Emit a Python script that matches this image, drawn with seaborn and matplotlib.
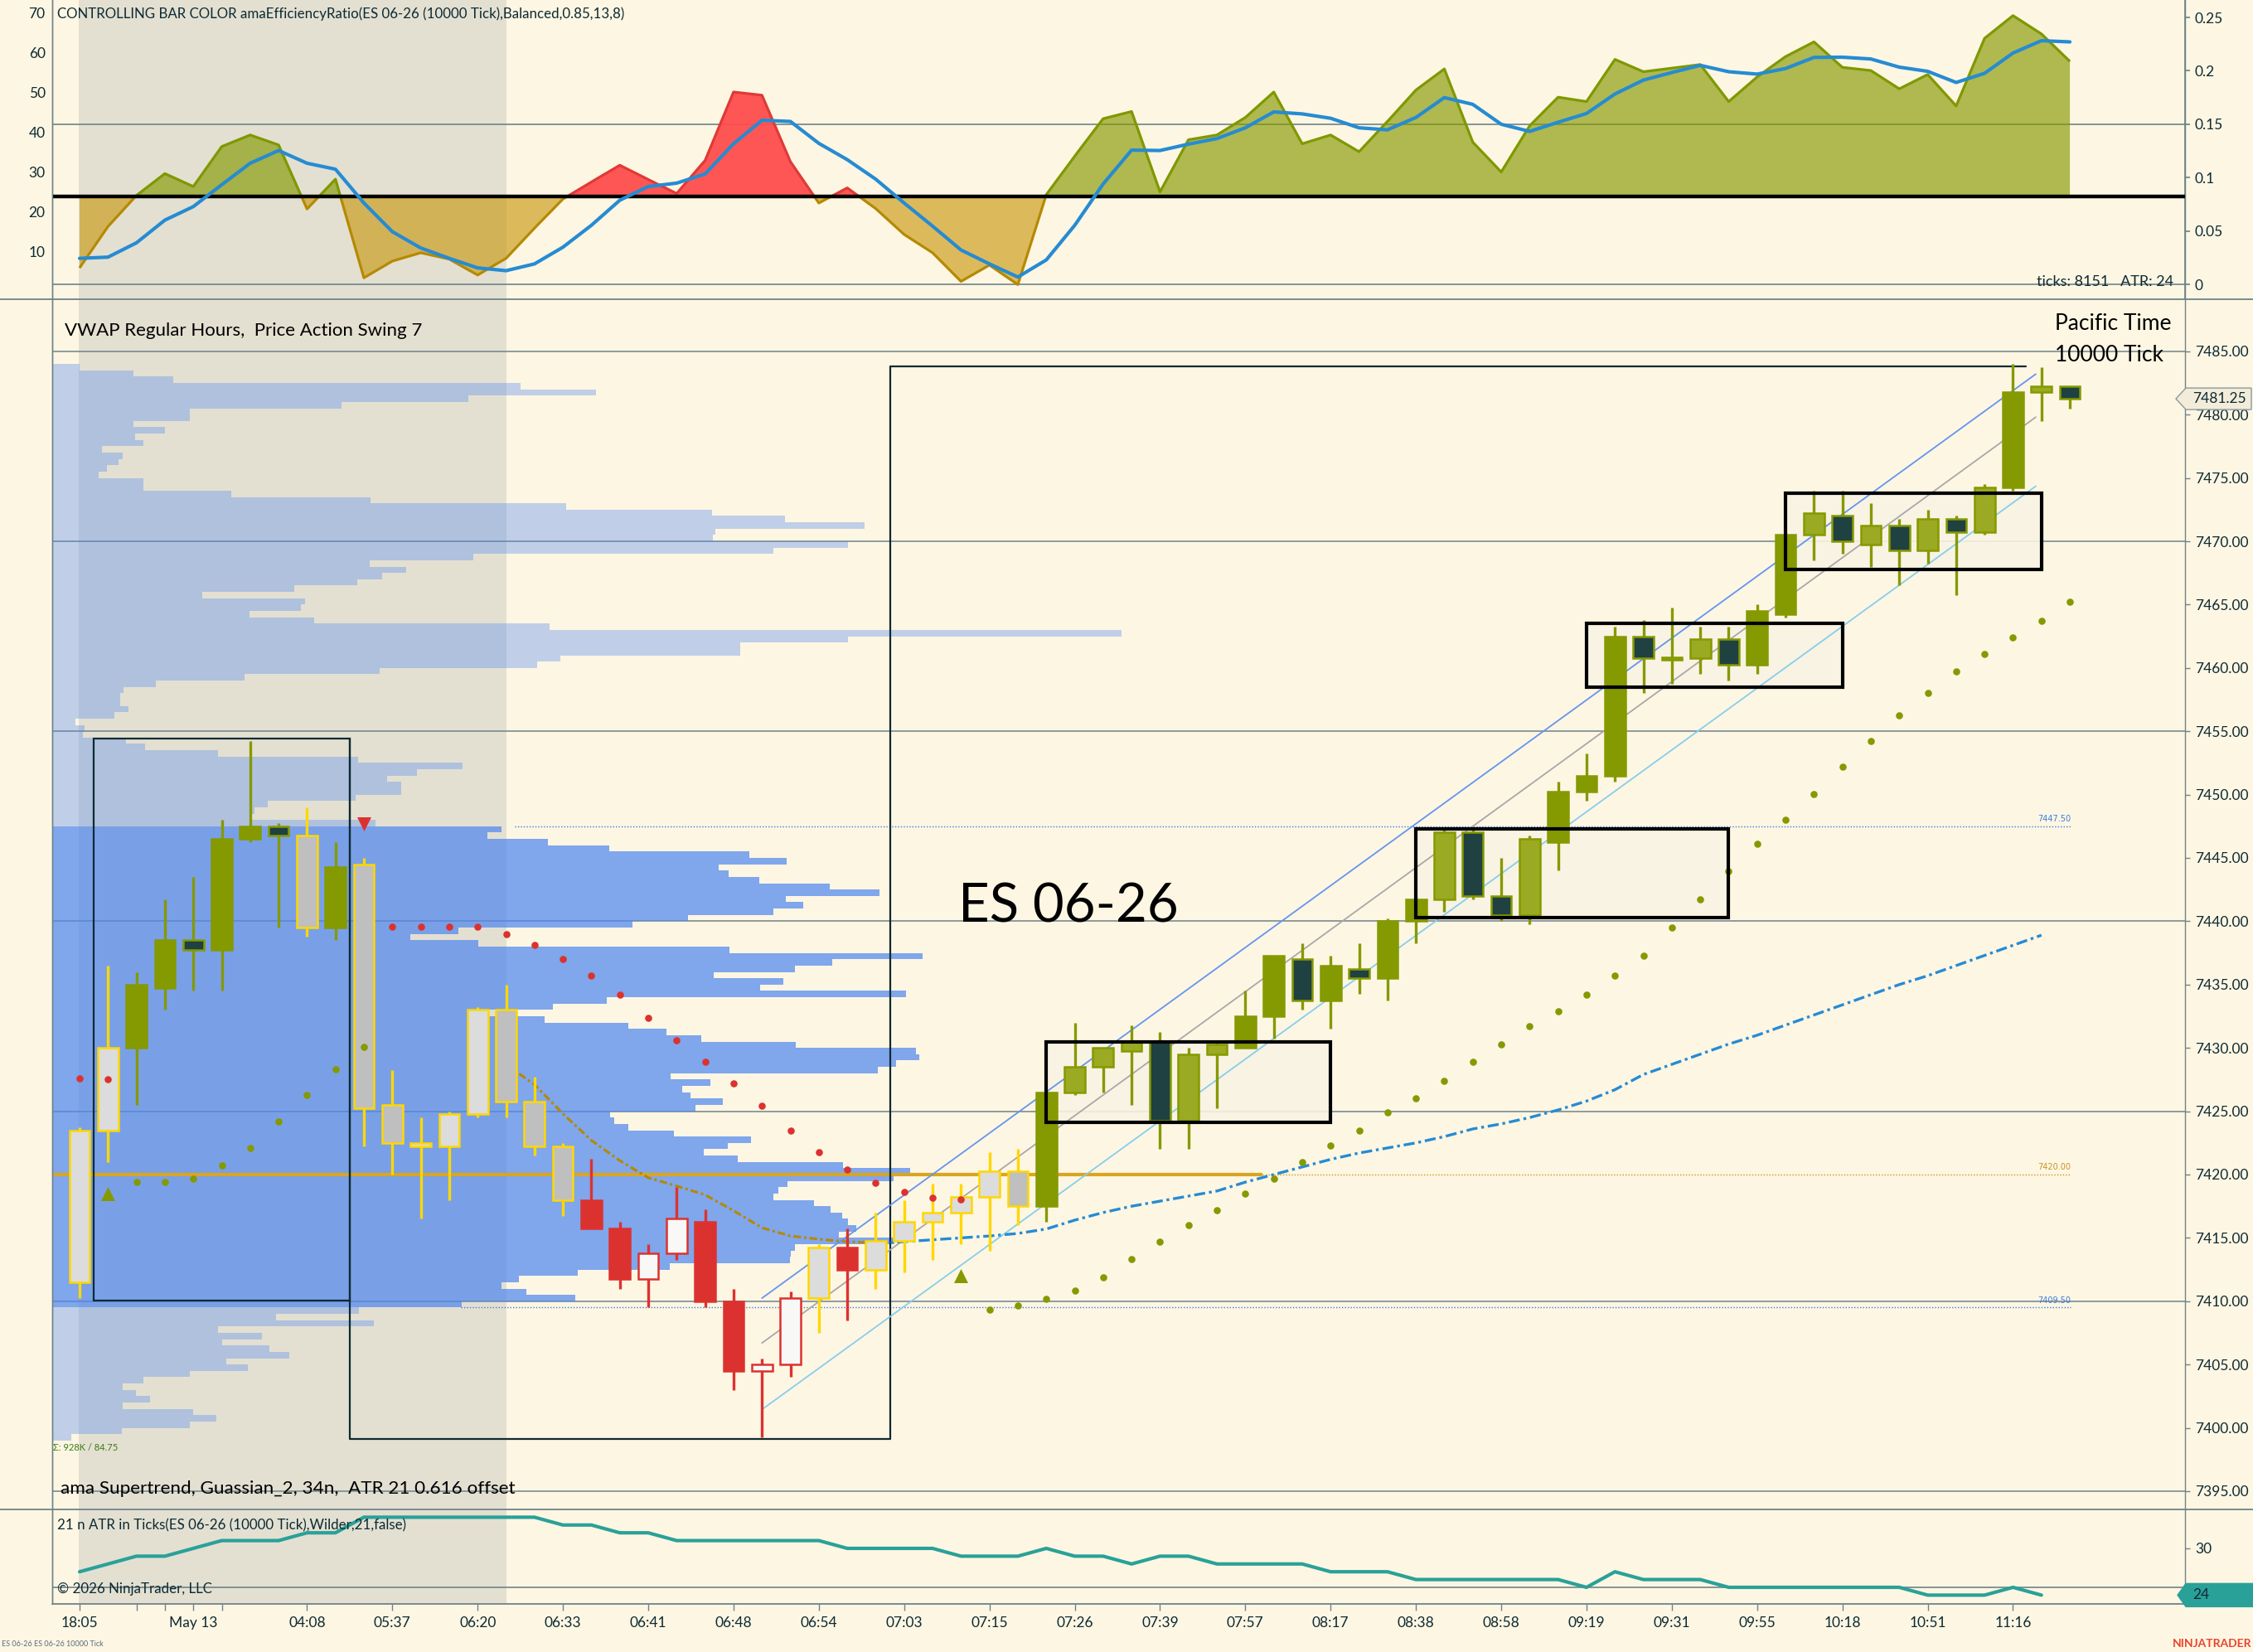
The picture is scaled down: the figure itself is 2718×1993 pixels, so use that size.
import numpy as np
import matplotlib
matplotlib.use("Agg")
import matplotlib.pyplot as plt
import matplotlib.transforms as mtrans
from matplotlib.patches import Rectangle, Polygon
from matplotlib.lines import Line2D
import seaborn as sns

sns.set_theme(style="white")
plt.rcParams['font.family'] = ['Lato', 'DejaVu Sans']

# ---------------------------------------------------------------- data
bar_open = [7411.5, 7423.5, 7430, 7434.75, 7438.5, 7437.75, 7446.5, 7447.5, 7446.75, 7439.5,
            7444.5, 7425.5, 7422.5, 7422.25, 7424.75, 7433, 7425.75, 7422.25, 7418, 7415.75,
            7411.75, 7413.75, 7416.25, 7410, 7404.5, 7405, 7410.25, 7414.25, 7412.5, 7414.75,
            7416.25, 7417, 7418.25, 7420.25, 7417.5, 7426.5, 7428.5, 7429.75, 7430.5, 7424.25,
            7429.5, 7430, 7432.5, 7437, 7433.75, 7436.25, 7435.5, 7440, 7441.75, 7447,
            7442, 7440.5, 7446.25, 7450.25, 7451.5, 7462.5, 7460.75, 7460.75, 7462.25, 7460.25,
            7464.25, 7470.5, 7472, 7469.75, 7471.25, 7469.25, 7471.75, 7470.75, 7474.25, 7481.75,
            7482.25]
bar_high = [7423.75, 7436.5, 7436, 7441.75, 7443.5, 7448, 7454.25, 7447.75, 7449, 7446.25,
            7445, 7428.25, 7424.5, 7425, 7433.25, 7435, 7427.75, 7422.5, 7421.25, 7416.25,
            7414.5, 7419, 7417.25, 7411, 7405.5, 7410.75, 7414.5, 7415.75, 7417, 7418,
            7419.25, 7419.25, 7421.75, 7422, 7426.75, 7432, 7430, 7431.75, 7431.25, 7430,
            7430.5, 7434.5, 7437.25, 7438.25, 7437.25, 7438.25, 7440.25, 7442, 7447.25, 7447.25,
            7445, 7446.75, 7451, 7453.25, 7463.25, 7463.75, 7464.75, 7463.25, 7463.25, 7465,
            7470.5, 7474, 7474, 7473, 7471.75, 7472.5, 7472, 7474.5, 7484, 7483.75,
            7482.25]
bar_low = [7410.25, 7421, 7425.5, 7433, 7434.5, 7434.5, 7446.25, 7439.5, 7438.75, 7438.5,
           7422.25, 7420, 7416.5, 7418, 7424.5, 7424.5, 7421.5, 7416.75, 7415.75, 7411,
           7409.5, 7413.25, 7409.5, 7403, 7399.25, 7404, 7407.5, 7408.5, 7411, 7412.25,
           7413.25, 7414.5, 7414, 7416, 7416.25, 7426.25, 7426.5, 7425.5, 7422, 7422,
           7425.25, 7430, 7430.75, 7433, 7431.5, 7434.25, 7433.75, 7438.25, 7440.75, 7441.75,
           7440, 7439.75, 7444, 7449.5, 7451, 7458, 7458.75, 7459.5, 7459, 7459.5,
           7464, 7468.5, 7469, 7468, 7466.5, 7468.25, 7465.75, 7470.5, 7474, 7479.5,
           7480.5]
bar_close = [7423.5, 7430, 7435, 7438.5, 7437.75, 7446.5, 7447.5, 7446.75, 7439.5, 7444.25,
             7425.25, 7422.5, 7422.25, 7424.75, 7433, 7425.75, 7422.25, 7418, 7415.75, 7411.75,
             7413.75, 7416.5, 7410, 7404.5, 7405, 7410.25, 7414.25, 7412.5, 7414.75, 7416.25,
             7417, 7418.25, 7420.25, 7417.5, 7426.5, 7428.5, 7430, 7430.5, 7424.25, 7429.5,
             7430.25, 7432.5, 7437.25, 7433.75, 7436.5, 7435.5, 7440, 7441.75, 7447, 7442,
             7440.5, 7446.5, 7450.25, 7451.5, 7462.5, 7460.75, 7460.75, 7462.25, 7460.25, 7464.5,
             7470.5, 7472.25, 7470, 7471.25, 7469.25, 7471.75, 7470.75, 7474.25, 7481.75, 7482.25,
             7481.25]
# controlling bar colour class per bar
bar_style = list("NNGGDGGDnG" "nnNNNnnnRR" "WWRRWWNRNN" "NNNnGgggDg"
                 "gGGDGDGGgD" "DgGGGDggDG" "GgDgDgDgGg" "D")

nan = np.nan
st_down = [7427.6, 7427.5, nan, nan, nan, nan, nan, nan, nan, nan,
           nan, 7439.6, 7439.6, 7439.6, 7439.6, 7439.0, 7438.1, 7437.0, 7435.7, 7434.2,
           7432.4, 7430.6, 7428.9, 7427.2, 7425.4, 7423.5, 7421.75, 7420.4, 7419.35, 7418.6,
           7418.15, 7418.05] + [nan] * 39
st_up = [nan, nan, 7419.4, 7419.4, 7419.65, 7420.75, 7422.1, 7424.2, 7426.3, 7428.3,
         7430.05] + [nan] * 21 + [
         7409.3, 7409.65, 7410.2, 7410.85, 7411.9, 7413.3, 7414.7, 7416.0,
         7417.2, 7418.5, 7419.7, 7421.0, 7422.3, 7423.5, 7424.9, 7426.0, 7427.4, 7428.9,
         7430.3, 7431.7, 7432.9, 7434.2, 7435.7, 7437.3, 7439.5, 7441.7, 7443.95, 7446.1,
         7448.0, 7450.05, 7452.2, 7454.25, 7456.25, 7458.05, 7459.7, 7461.1, 7462.4, 7463.7,
         7465.25]
sig_buy_bars = [1, 31]
sig_buy_price = [7418.5, 7412.0]
sig_sell_bars = [10]
sig_sell_price = [7447.7]

ma_down_bars = list(range(15, 29))
ma_down = [7428.7, 7427.1, 7424.8, 7422.7, 7421.1, 7419.75, 7419.1, 7418.4, 7417.15,
           7415.8, 7415.15, 7414.9, 7414.7, 7414.6]
ma_up_bars = list(range(28, 70))
ma_up = [7414.6, 7414.7, 7414.85, 7415.0, 7415.15, 7415.35, 7415.7, 7416.4, 7417.0, 7417.5,
         7417.9, 7418.3, 7418.7, 7419.4, 7420.0, 7420.6, 7421.2, 7421.7, 7422.1, 7422.5,
         7423.0, 7423.6, 7424.0, 7424.5, 7425.1, 7425.8, 7426.7, 7427.9, 7428.7, 7429.5,
         7430.3, 7431.0, 7431.8, 7432.6, 7433.4, 7434.2, 7435.0, 7435.7, 7436.5, 7437.3,
         7438.1, 7438.9]

# efficiency ratio (left scale) and its signal
er = [5.8, 16.2, 24.0, 29.5, 26.25, 36.3, 39.2, 36.7, 20.6, 28.1,
      3.3, 7.5, 9.6, 8.0, 4.0, 8.2, 15.8, 23.1, 27.4, 31.6,
      28.0, 24.5, 32.8, 50.0, 49.2, 32.5, 22.1, 25.9, 20.7, 14.2,
      9.6, 2.4, 6.5, 1.6, 24.2, 33.9, 43.3, 45.1, 24.9, 38.0,
      39.2, 43.6, 50.0, 37.0, 39.2, 35.0, 42.6, 50.5, 55.8, 37.4,
      29.9, 41.5, 48.7, 47.6, 58.2, 55.1, 56.0, 56.9, 47.6, 53.8,
      58.9, 62.6, 56.2, 55.4, 50.8, 54.4, 46.5, 63.5, 69.2, 64.6, 57.7]
er_signal = [8.2, 8.5, 12.1, 17.8, 21.2, 26.7, 32.1, 35.3, 32.1, 30.6,
             22.1, 14.9, 10.8, 8.2, 5.8, 5.1, 6.8, 11.0, 16.5, 22.8,
             26.25, 27.1, 29.4, 37.0, 42.9, 42.6, 37.1, 33.0, 28.1, 22.1,
             16.3, 10.3, 6.8, 3.5, 7.8, 16.5, 26.9, 35.4, 35.3, 36.9,
             38.3, 41.0, 45.0, 44.5, 43.4, 41.0, 40.5, 43.6, 48.6, 46.9,
             41.9, 40.1, 42.4, 44.6, 49.5, 53.0, 54.9, 56.7, 55.1, 54.5,
             55.9, 58.7, 58.75, 58.3, 56.25, 55.2, 52.4, 54.7, 59.8, 62.9, 62.6]
er_threshold = 23.75

atr_ticks = [27, 28, 29, 29, 30, 31, 31, 31, 32, 32,
             34, 34, 34, 34, 34, 34, 34, 33, 33, 32,
             32, 31, 31, 31, 31, 31, 31, 30, 30, 30,
             30, 29, 29, 29, 30, 29, 29, 28, 29, 29,
             28, 28, 28, 28, 27, 27, 27, 26, 26, 26,
             26, 26, 26, 25, 27, 26, 26, 26, 25, 25,
             25, 25, 25, 25, 25, 24, 24, 24, 25, 24]

# volume profile (0.5 pt rows)
profile_upper = [33, 98, 146, 565, 656, 502, 349, 166, 166, 98,
                 136, 100, 110, 60, 85, 80, 66, 56, 110, 110,
                 216, 384, 620, 796, 884, 980, 800, 797, 960, 870,
                 508, 383, 427, 398, 368, 292, 181, 305, 300, 238,
                 316, 600, 1290, 960, 830, 830, 613, 585, 395, 232,
                 125, 86, 82, 82, 92, 75, 28, 39, 37, 89,
                 112, 200, 369, 495, 440, 404, 421, 421, 366, 260,
                 244, 240, 390]
profile_value_area = [542, 525, 598, 672, 841, 886, 804, 816, 853, 938,
                      998, 885, 906, 870, 767, 700, 490, 432, 514, 817,
                      1050, 941, 896, 798, 882, 854, 1030, 669, 604, 519,
                      594, 695, 741, 783, 897, 1042, 1046, 1018, 996, 746,
                      794, 760, 770, 809, 776, 673, 678, 695, 750, 843,
                      815, 786, 827, 954, 1035, 1015, 887, 876, 870, 919,
                      939, 953, 960, 970, 949, 1016, 896, 891, 890, 745,
                      634, 563, 542, 572, 631, 494]
profile_lower = [370, 270, 388, 200, 253, 205, 262, 286, 210, 236,
                 166, 110, 85, 101, 118, 85, 170, 198, 166, 84, 23]
profile_top = 7484.0
value_area_high = 7447.5
value_area_low = 7409.5
poc_level = 7420.0

# consolidation boxes: (bar_from, bar_to, price_low, price_high)
boxes = [(34, 44, 7424.1, 7430.5), (47, 58, 7440.3, 7447.3),
         (53, 62, 7458.5, 7463.5), (60, 69, 7467.8, 7473.8)]
swing_box = (0.5, 9.5, 7410.07, 7454.4)
swing_path_bars = [9.5, 9.5, 28.5, 28.5, 68.45]
swing_path_price = [7454.4, 7399.1, 7399.1, 7483.8, 7483.8]
channel_bars = [24, 68.8]
channel_upper = [7410.24, 7483.2]
channel_mid = [7406.7, 7479.8]
channel_lower = [7401.45, 7474.35]

time_tick_bars = [0, 4, 8, 11, 14, 17, 20, 23, 26, 29, 32, 35, 38, 41, 44, 47, 50, 53, 56,
                  59, 62, 65, 68]
time_tick_labels = ['18:05', 'May 13', '04:08', '05:37', '06:20', '06:33', '06:41', '06:48',
                    '06:54', '07:03', '07:15', '07:26', '07:39', '07:57', '08:17', '08:38',
                    '08:58', '09:19', '09:31', '09:55', '10:18', '10:51', '11:16']
minor_tick_bars = [2, 3, 5]

# ---------------------------------------------------------------- style
BG = '#fdf6e3'
SHADE = '#e3e0d2'
GRID = '#6f8389'
TXT = '#0d2a33'
OLIVE = '#859900'
FW, FH = 2718, 1993

fig = plt.figure(figsize=(FW / 100, FH / 100), dpi=100)
fig.patch.set_facecolor(BG)

x0f, x1f = 63 / FW, 2636 / FW
ax_er = fig.add_axes([x0f, 1 - 361 / FH, x1f - x0f, 361 / FH])
ax_p = fig.add_axes([x0f, 1 - 1821 / FH, x1f - x0f, 1460 / FH])
ax_atr = fig.add_axes([x0f, 1 - 1935 / FH, x1f - x0f, 114 / FH])

XLIM = (-0.962, 74.05)
n = len(bar_close)
xb = np.arange(n)
for ax in (ax_er, ax_p, ax_atr):
    ax.set_facecolor(BG)
    ax.set_xlim(*XLIM)
    for s in ('top', 'bottom'):
        ax.spines[s].set_visible(False)
    for s in ('left', 'right'):
        ax.spines[s].set_color(GRID)
        ax.spines[s].set_linewidth(1.0)
    ax.axvspan(-0.03, 15.0, color=SHADE, zorder=0, lw=0)
    ax.tick_params(axis='y', colors=GRID, labelcolor=TXT, labelsize=12.5, length=4, width=1)
    ax.grid(False)
ax_er.set_xticks([])
ax_p.set_xticks([])

# ---------------------------------------------------------------- ER pane
ax_er.set_ylim(-2.08, 73.125)
ax_er.set_yticks([0, 10, 20, 30, 40, 50, 60, 70])
ax_er.set_yticklabels(['', '10', '20', '30', '40', '50', '60', '70'])
ax_er.tick_params(axis='y', pad=2)


def l2r(v):
    return (np.asarray(v) - 1.667) / 268.3


def r2l(v):
    return np.asarray(v) * 268.3 + 1.667


sec = ax_er.secondary_yaxis('right', functions=(l2r, r2l))
sec.set_yticks([0, 0.05, 0.1, 0.15, 0.2, 0.25])
sec.set_yticklabels(['0', '0.05', '0.1', '0.15', '0.2', '0.25'])
sec.tick_params(colors=GRID, labelcolor=TXT, labelsize=12.5, length=4, pad=4)
sec.spines['right'].set_color(GRID)

for v in (0.15, 0.0):
    ax_er.axhline(r2l(v), color=GRID, lw=1.2, zorder=1)

er_arr = np.array(er)
xd = np.linspace(0, n - 1, (n - 1) * 40 + 1)
erd = np.interp(xd, xb, er_arr)
up_bar = ~np.isnan(np.array(st_up, dtype=float))
upd = up_bar[np.clip(np.rint(xd).astype(int), 0, n - 1)]
above = erd >= er_threshold
fills = [(above & upd, OLIVE, 0.65, '#7f9800'),
         (above & ~upd, '#ff4d4d', 0.95, '#e03a36'),
         (~above, '#c9960a', 0.62, '#b58900')]
for mask, fc, al, ec in fills:
    ax_er.fill_between(xd, erd, er_threshold, where=mask, color=fc, alpha=al,
                       lw=0, interpolate=True, zorder=2)
    grow = mask | np.roll(mask, 1) | np.roll(mask, -1)
    ax_er.plot(xd, np.where(grow, erd, np.nan), color=ec, lw=2.3, zorder=3,
               solid_capstyle='butt')
ax_er.axhline(er_threshold, color='black', lw=3.2, zorder=4)
sns.lineplot(x=xb, y=er_signal, ax=ax_er, color='#268bd2', linewidth=3.0, zorder=5)
ax_er.set_xlabel('')
ax_er.set_ylabel('')

# ---------------------------------------------------------------- price pane
ax_p.set_ylim(7393.56, 7489.11)
ax_p.yaxis.tick_right()
ax_p.set_yticks(np.arange(7395, 7486, 5))
ax_p.set_yticklabels([f'{v:.2f}' for v in np.arange(7395, 7486, 5)])
ax_p.tick_params(axis='y', pad=5)
for g in np.arange(7395, 7486, 15):
    ax_p.axhline(g, color=GRID, lw=1.1, zorder=0.5)

px_per_bar = 34.3
up_y = profile_top - 0.25 - 0.5 * np.arange(len(profile_upper))
va_y = value_area_high - 0.25 - 0.5 * np.arange(len(profile_value_area))
lo_y = value_area_low - 0.25 - 0.5 * np.arange(len(profile_lower))
PROF = '#5088f0'
ax_p.barh(up_y, np.array(profile_upper) / px_per_bar, left=XLIM[0], height=0.5,
          color=PROF, alpha=0.35, lw=0, zorder=1)
ax_p.barh(lo_y, np.array(profile_lower) / px_per_bar, left=XLIM[0], height=0.5,
          color=PROF, alpha=0.35, lw=0, zorder=1)
ax_p.barh(va_y, np.array(profile_value_area) / px_per_bar, left=XLIM[0], height=0.5,
          color=PROF, alpha=0.72, lw=0, zorder=1)

# level lines
lvl_end = 70.03
ax_p.hlines(value_area_high, 15.3, lvl_end, color='#3f7be0', lw=1.0, linestyles=(0, (1, 1.5)), zorder=1.5)
ax_p.hlines(value_area_low, 13.4, lvl_end, color='#3f7be0', lw=1.0, linestyles=(0, (1, 1.5)), zorder=1.5)
ax_p.hlines(poc_level, XLIM[0], 41.6, color='#daa520', lw=3.0, zorder=1.6)
ax_p.hlines(poc_level, 41.6, lvl_end, color='#c8961e', lw=1.0, linestyles=(0, (1, 1.5)), zorder=1.5)
for lv, col in ((value_area_high, '#3f7be0'), (poc_level, '#c8961e'), (value_area_low, '#3f7be0')):
    ax_p.text(lvl_end, lv + 0.25, f'{lv:.2f}', color=col, fontsize=7, ha='right', va='bottom',
              family=['Liberation Sans Narrow', 'DejaVu Sans'], zorder=2)

# boxes
for b0, b1, lo, hi in boxes:
    ax_p.add_patch(Rectangle((b0, lo), b1 - b0, hi - lo, facecolor='#f8f3e3', edgecolor='none',
                             alpha=0.9, zorder=1.7))
    ax_p.add_patch(Rectangle((b0, lo), b1 - b0, hi - lo, facecolor='none', edgecolor='black',
                             lw=3.0, zorder=6))
sb0, sb1, slo, shi = swing_box
ax_p.add_patch(Rectangle((sb0, slo), sb1 - sb0, shi - slo, facecolor='none', edgecolor='#0e2a33',
                         lw=1.6, zorder=2))
ax_p.plot(swing_path_bars, swing_path_price, color='#0e2a33', lw=1.6, zorder=2)

# regression channel
ax_p.plot(channel_bars, channel_upper, color='#6495ed', lw=1.3, zorder=2.2)
ax_p.plot(channel_bars, channel_mid, color='#a8a8a8', lw=1.3, zorder=2.2)
ax_p.plot(channel_bars, channel_lower, color='#87ceeb', lw=1.3, zorder=2.2)

# moving average (trend coloured)
sns.lineplot(x=ma_down_bars, y=ma_down, ax=ax_p, color='#b58900', linewidth=2.2,
             zorder=2.5).lines[-1].set_dashes((3, 1.2, 1, 1.2))
sns.lineplot(x=ma_up_bars, y=ma_up, ax=ax_p, color='#268bd2', linewidth=2.4,
             zorder=2.5).lines[-1].set_dashes((4, 1.4, 1, 1.4))

# candles
o = np.array(bar_open); h = np.array(bar_high); lo_ = np.array(bar_low); c = np.array(bar_close)
b_lo = np.minimum(o, c)
b_h = np.abs(c - o)
small = b_h < 0.2
b_lo = np.where(small, (o + c) / 2 - 0.1, b_lo)
b_h = np.where(small, 0.2, b_h)
STY = {'G': (OLIVE, OLIVE, OLIVE), 'g': ('#9aaa22', OLIVE, OLIVE),
       'D': ('#1f4142', OLIVE, OLIVE),
       'N': ('#dcdcdc', '#ffd700', '#ffd700'), 'n': ('#bfbfbf', '#ffd700', '#ffd700'),
       'R': ('#dc322f', '#dc322f', '#dc322f'), 'W': ('#f8f8f6', '#dc322f', '#dc322f')}
styles = np.array(bar_style)
for key, (fc, ec, wc) in STY.items():
    idx = np.where(styles == key)[0]
    if len(idx) == 0:
        continue
    ax_p.vlines(xb[idx], lo_[idx], h[idx], color=wc, lw=2.4, zorder=3)
    ax_p.bar(xb[idx], b_h[idx], bottom=b_lo[idx], width=0.72, color=fc, edgecolor=ec,
             linewidth=1.8, zorder=4)

# supertrend
sns.scatterplot(x=xb, y=st_down, ax=ax_p, color='#dc322f', s=38, linewidth=0, zorder=5)
sns.scatterplot(x=xb, y=st_up, ax=ax_p, color=OLIVE, s=38, linewidth=0, zorder=5)
ax_p.scatter(sig_buy_bars, sig_buy_price, marker='^', s=150, color=OLIVE, lw=0, zorder=5)
ax_p.scatter(sig_sell_bars, sig_sell_price, marker='v', s=150, color='#dc322f', lw=0, zorder=5)
ax_p.set_xlabel('')
ax_p.set_ylabel('')
ax_p.set_xlim(*XLIM)

# ---------------------------------------------------------------- ATR pane
ax_atr.set_ylim(22.87, 35.0)
ax_atr.yaxis.tick_right()
ax_atr.set_yticks([25, 30])
ax_atr.set_yticklabels(['', '30'])
ax_atr.tick_params(axis='y', pad=5)
ax_atr.axhline(25, color=GRID, lw=1.2, zorder=0.5)
sns.lineplot(x=np.arange(len(atr_ticks)), y=atr_ticks, ax=ax_atr, color='#2aa198',
             linewidth=3.0, zorder=3)
ax_atr.set_xlabel('')
ax_atr.set_ylabel('')
ax_atr.set_xlim(*XLIM)
ax_atr.set_xticks(time_tick_bars + minor_tick_bars)
ax_atr.set_xticklabels(time_tick_labels + [''] * len(minor_tick_bars))
ax_atr.tick_params(axis='x', bottom=True, colors=GRID, labelcolor=TXT, labelsize=12.5,
                   length=6, width=1, pad=5)

# ---------------------------------------------------------------- separators
for ypx, xs in ((361, 0), (1821, 0), (1935, 63)):
    fig.add_artist(Line2D([xs / FW, 1], [1 - ypx / FH] * 2, color=GRID, lw=1.3,
                          transform=fig.transFigure))
fig.add_artist(Line2D([x0f, x0f], [1 - 1935 / FH, 1], color=GRID, lw=1.0,
                      transform=fig.transFigure))


# ---------------------------------------------------------------- texts
def ftext(xpx, ypx, s, **kw):
    kw.setdefault('va', 'center')
    kw.setdefault('color', TXT)
    fig.text(xpx / FW, 1 - ypx / FH, s, **kw)


ftext(69, 17, 'CONTROLLING BAR COLOR amaEfficiencyRatio(ES 06-26 (10000 Tick),Balanced,0.85,13,8)',
      fontsize=12.2)
ftext(2622, 340, 'ticks: 8151   ATR: 24', fontsize=13, ha='right')
ftext(78, 399, 'VWAP Regular Hours,  Price Action Swing 7', fontsize=16, color='black')
ftext(2479, 391, 'Pacific Time', fontsize=19, color='black')
ftext(2479, 428, '10000 Tick', fontsize=19, color='black')
ftext(1156, 1094, 'ES 06-26', fontsize=47, color='black')
ftext(64, 1747, 'Σ: 928K / 84.75', fontsize=8, color='#3a7a10')
ftext(73, 1796, 'ama Supertrend, Guassian_2, 34n,  ATR 21 0.616 offset', fontsize=16.2,
      color='black')
ftext(69, 1840, '21 n ATR in Ticks(ES 06-26 (10000 Tick),Wilder,21,false)', fontsize=12.2)
ftext(69, 1917, '© 2026 NinjaTrader, LLC', fontsize=12.2)
ftext(2, 1983, 'ES 06-26 ES 06-26 10000 Tick', fontsize=6.5, color='#586e75')
ftext(2716, 1983, 'NINJATRADER', fontsize=10, color='#e8452c', ha='right', weight='bold')

# ---------------------------------------------------------------- price tags
ident = mtrans.IdentityTransform()
last = bar_close[-1]
yp = ax_p.transData.transform((0, last))[1]
fig.add_artist(Polygon([(2625, yp), (2637, yp + 13), (2716, yp + 13), (2716, yp - 13),
                        (2637, yp - 13)], closed=True, facecolor='#f2ecd9', edgecolor='#8a9a9e',
                       lw=1.0, transform=ident, zorder=10))
fig.text(2645, yp, f'{last:.2f}', transform=ident, va='center', fontsize=12.5, color=TXT,
         zorder=11)
ya = ax_atr.transData.transform((0, atr_ticks[-1]))[1]
fig.add_artist(Polygon([(2627, ya), (2637, ya + 14), (2718, ya + 14), (2718, ya - 14),
                        (2637, ya - 14)], closed=True, facecolor='#2aa198', edgecolor='#2aa198',
                       lw=1.0, transform=ident, zorder=10))
fig.text(2645, ya, f'{atr_ticks[-1]}', transform=ident, va='center', fontsize=12.5, color=TXT,
         zorder=11)

fig.savefig('out.png', dpi=100, facecolor=BG)
